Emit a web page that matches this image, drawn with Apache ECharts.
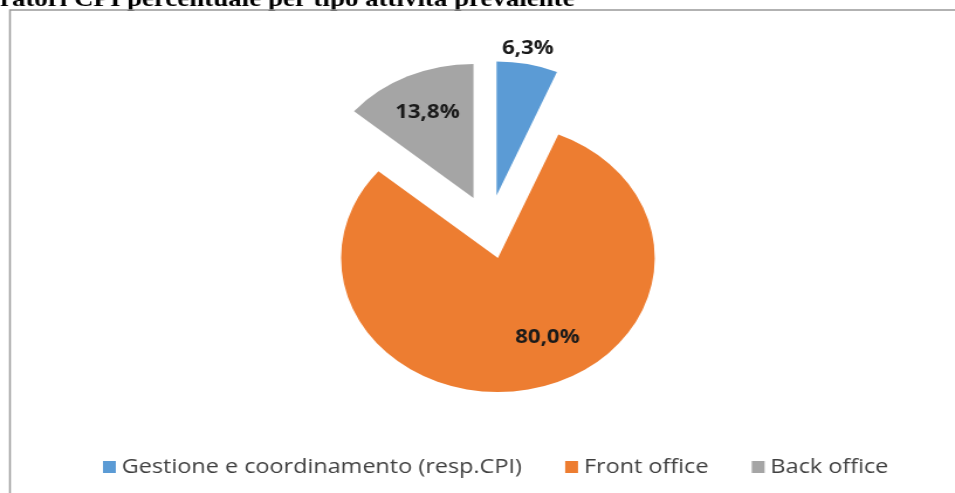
<!DOCTYPE html>
<html>
<head>
<meta charset="utf-8">
<script src="https://cdn.jsdelivr.net/npm/echarts@6/dist/echarts.min.js"></script>
<style>
  html, body { margin: 0; padding: 0; background: #fff; overflow: hidden; }
  /* the source picture is stretched sideways, so the whole chart is too */
  #main { width: 816px; height: 493px; transform: scaleX(1.1703); transform-origin: 0 0; }
</style>
</head>
<body>
<div id="main"></div>
<script>
const categories = ['Gestione e coordinamento (resp.CPI)', 'Front office', 'Back office'];
const shares = [6.3, 80.0, 13.8];
const colors = ['#5B9BD5', '#ED7D31', '#A5A5A5'];

// where each label sits relative to the middle of its slice
const labelShift = [[13, -78], [26, 11], [-10, -22]];

const chart = echarts.init(document.getElementById('main'));

const pieData = categories.map(function (name, i) {
  return {
    name: name,
    value: shares[i],
    selected: true,
    itemStyle: { color: colors[i] }
  };
});

const option = {
  animation: false,
  graphic: [
    {
      type: 'text',
      left: 0,
      top: -11,
      style: {
        text: 'ratori CPI percentuale per tipo attività prevalente',
        font: 'bold 23px "Liberation Serif", "Times New Roman", serif',
        fill: '#000'
      }
    },
    {
      type: 'rect',
      shape: { x: 8.5, y: 10, width: 900, height: 600 },
      style: { fill: 'none', stroke: '#999', lineWidth: 1.5 }
    }
  ],
  legend: {
    left: 88,
    top: 457,
    padding: 0,
    itemWidth: 11,
    itemHeight: 12,
    itemGap: 37,
    icon: 'rect',
    selectedMode: false,
    textStyle: { fontFamily: 'Open Sans', fontSize: 20, color: '#404040' },
    data: categories
  },
  series: [
    {
      type: 'pie',
      center: [418, 227],
      radius: 134,
      startAngle: 90,
      clockwise: true,
      selectedMode: 'multiple',
      selectedOffset: 32,
      avoidLabelOverlap: false,
      select: { itemStyle: { borderWidth: 0 } },
      emphasis: { disabled: true },
      label: {
        show: true,
        position: 'inside',
        fontFamily: 'Open Sans',
        fontWeight: 'bold',
        fontSize: 19,
        color: '#1a1a1a',
        formatter: function (p) {
          return p.value.toFixed(1).replace('.', ',') + '%';
        }
      },
      labelLine: { show: false },
      labelLayout: function (params) {
        return { dx: labelShift[params.dataIndex][0], dy: labelShift[params.dataIndex][1] };
      },
      data: pieData
    }
  ]
};

chart.setOption(option);
</script>
</body>
</html>
